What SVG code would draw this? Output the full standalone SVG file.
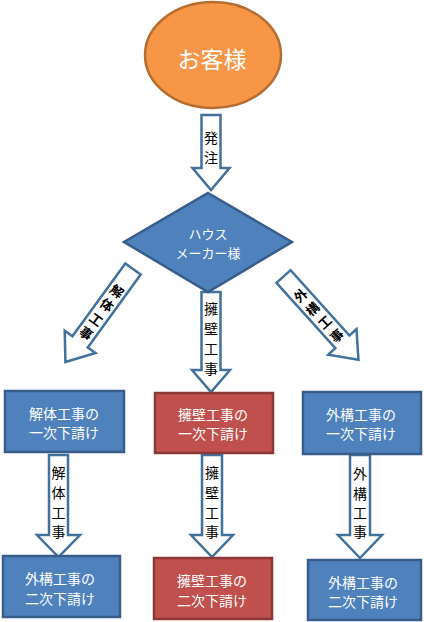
<svg xmlns="http://www.w3.org/2000/svg" width="429" height="622" viewBox="0 0 429 622">
<style>
.arrow{fill:#ffffff;stroke:#41719C;stroke-width:2.5;stroke-linejoin:miter}
.blue{fill:#4F81BD;stroke:#385D8A;stroke-width:2.5}
.red{fill:#C0504D;stroke:#8C3836;stroke-width:2.5}
.wt{fill:#ffffff;font-family:"Noto Sans CJK JP","Noto Sans",sans-serif;font-size:14px;text-anchor:middle;dominant-baseline:central}
.bt{fill:#000000;font-family:"Noto Sans CJK JP","Noto Sans",sans-serif;font-size:14px;text-anchor:middle;dominant-baseline:central}
.dt{fill:#000000;font-family:"Noto Sans CJK JP","Noto Sans",sans-serif;font-size:13px;font-weight:bold;text-anchor:middle;dominant-baseline:central}
</style>
<rect width="429" height="622" fill="#ffffff"/>
<g id="connectors">
  <g id="arrow-hacchu">
    <path class="arrow" d="M201.5,115 L220.5,115 L220.5,168 L229.5,168 L211,190 L192.5,168 L201.5,168 Z"/>
    <text class="bt" x="211" y="137">発</text>
    <text class="bt" x="211" y="157">注</text>
  </g>
  <g id="arrow-kaitai" transform="translate(133,269) rotate(36)">
    <path class="arrow" d="M-9.5,0 L9.5,0 L9.5,90 L19,90 L0,115 L-19,90 L-9.5,90 Z"/>
    <text class="dt" x="0" y="27">解</text>
    <text class="dt" x="0" y="44">体</text>
    <text class="dt" x="0" y="62">工</text>
    <text class="dt" x="0" y="79">事</text>
  </g>
  <g id="arrow-youheki" >
    <path class="arrow" d="M201.5,292 L220.5,292 L220.5,370 L230,370 L211,392 L192,370 L201.5,370 Z"/>
    <text class="bt" x="211" y="308">擁</text>
    <text class="bt" x="211" y="328">壁</text>
    <text class="bt" x="211" y="348">工</text>
    <text class="bt" x="211" y="368">事</text>
  </g>
  <g id="arrow-gaikou" transform="translate(283.5,276.5) rotate(-42)">
    <path class="arrow" d="M-9.5,0 L9.5,0 L9.5,88 L19,88 L0,112 L-19,88 L-9.5,88 Z"/>
    <text class="dt" x="0" y="25">外</text>
    <text class="dt" x="0" y="43">構</text>
    <text class="dt" x="0" y="61">工</text>
    <text class="dt" x="0" y="79">事</text>
  </g>
  <g id="arrow-kaitai2">
    <path class="arrow" d="M49,455 L68,455 L68,535 L80,535 L58.5,557 L37,535 L49,535 Z"/>
    <text class="bt" x="58.5" y="472">解</text>
    <text class="bt" x="58.5" y="492">体</text>
    <text class="bt" x="58.5" y="512">工</text>
    <text class="bt" x="58.5" y="531">事</text>
  </g>
  <g id="arrow-youheki2">
    <path class="arrow" d="M202,455 L222,455 L222,535 L233,535 L212,557 L191,535 L202,535 Z"/>
    <text class="bt" x="212" y="472">擁</text>
    <text class="bt" x="212" y="492">壁</text>
    <text class="bt" x="212" y="512">工</text>
    <text class="bt" x="212" y="531">事</text>
  </g>
  <g id="arrow-gaikou2">
    <path class="arrow" d="M350,455 L370,455 L370,535 L382,535 L360,558 L338,535 L350,535 Z"/>
    <text class="bt" x="360" y="473">外</text>
    <text class="bt" x="360" y="493">構</text>
    <text class="bt" x="360" y="512">工</text>
    <text class="bt" x="360" y="531">事</text>
  </g>
</g>
<g id="customer">
  <ellipse cx="213" cy="55" rx="68" ry="53" fill="#F79646" stroke="#B66D31" stroke-width="2.5"/>
  <text class="wt" x="212" y="58" style="font-size:23px">お客様</text>
</g>
<g id="house-maker">
  <path class="blue" d="M208,193 L292,242 L208,292 L124,242 Z"/>
  <text class="wt" x="208" y="233" style="font-size:13px">ハウス</text>
  <text class="wt" x="208" y="252" style="font-size:13px">メーカー様</text>
</g>
<g id="kaitai1">
  <rect class="blue" x="5" y="391" width="119" height="61"/>
  <text class="wt" x="64" y="413">解体工事の</text>
  <text class="wt" x="64" y="432">一次下請け</text>
</g>
<g id="youheki1">
  <rect class="red" x="155" y="393" width="118" height="60"/>
  <text class="wt" x="213" y="414">擁壁工事の</text>
  <text class="wt" x="213" y="433">一次下請け</text>
</g>
<g id="gaikou1">
  <rect class="blue" x="303" y="392" width="118" height="62"/>
  <text class="wt" x="361" y="414">外構工事の</text>
  <text class="wt" x="361" y="433">一次下請け</text>
</g>
<g id="gaikou2-left">
  <rect class="blue" x="3" y="556" width="117" height="61"/>
  <text class="wt" x="60" y="578">外構工事の</text>
  <text class="wt" x="60" y="598">二次下請け</text>
</g>
<g id="youheki2">
  <rect class="red" x="154" y="558" width="118" height="61"/>
  <text class="wt" x="212" y="580">擁壁工事の</text>
  <text class="wt" x="212" y="600">二次下請け</text>
</g>
<g id="gaikou2-right">
  <rect class="blue" x="308" y="560" width="113" height="60"/>
  <text class="wt" x="363" y="582">外構工事の</text>
  <text class="wt" x="363" y="601">二次下請け</text>
</g>
</svg>
